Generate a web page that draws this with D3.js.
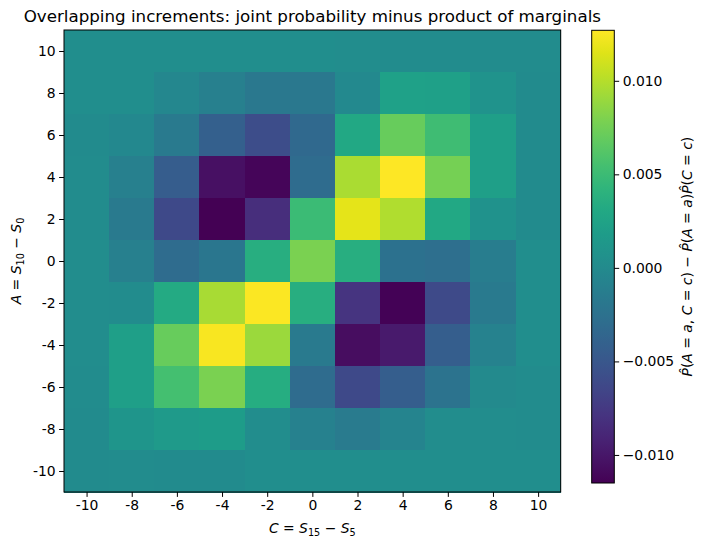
<!DOCTYPE html>
<html>
<head>
<meta charset="utf-8">
<script src="https://cdn.jsdelivr.net/npm/d3@7"></script>
<style>
    body { margin: 0; background: #fff; }
    svg text { font-family: "DejaVu Sans", sans-serif; fill: #000; }
    .tick line { stroke: #000; }
    .domain { display: none; }
</style>
</head>
<body>
<div id="chart"></div>
<script>
// Chart data: rows of A (top to bottom), columns of C (left to right)
const cValues = [-10, -8, -6, -4, -2, 0, 2, 4, 6, 8, 10];
const aValues = [10, 8, 6, 4, 2, 0, -2, -4, -6, -8, -10];
const diffRows = [
    [0.0004, 0.0004, 0.0004, 0.0004, 0.0004, 0.0004, 0.0003, 0.0002, 0.0002, 0.0002, 0.0002],
    [0.0004, 0.0004, -0.0003, -0.0011, -0.0018, -0.0018, -0.0001, 0.0023, 0.0022, 0.0009, 0.0001],
    [0.0001, -0.0002, -0.0016, -0.0042, -0.0059, -0.0033, 0.0030, 0.0071, 0.0052, 0.0021, 0.0001],
    [0.0002, -0.0011, -0.0045, -0.0105, -0.0112, -0.0030, 0.0096, 0.0127, 0.0076, 0.0021, 0.0001],
    [0.0002, -0.0016, -0.0062, -0.0115, -0.0083, 0.0050, 0.0117, 0.0098, 0.0030, 0.0008, 0.0001],
    [0.0003, -0.0011, -0.0030, -0.0020, 0.0037, 0.0078, 0.0037, -0.0025, -0.0028, -0.0013, 0.0004],
    [0.0003, 0.0002, 0.0032, 0.0095, 0.0126, 0.0037, -0.0079, -0.0114, -0.0061, -0.0016, 0.0004],
    [0.0003, 0.0021, 0.0071, 0.0125, 0.0091, -0.0016, -0.0107, -0.0098, -0.0044, -0.0009, 0.0004],
    [0.0002, 0.0021, 0.0055, 0.0078, 0.0035, -0.0030, -0.0062, -0.0044, -0.0023, 0.0000, 0.0002],
    [0.0001, 0.0011, 0.0016, 0.0018, 0.0003, -0.0010, -0.0015, -0.0006, 0.0003, 0.0003, 0.0002],
    [0.0001, 0.0002, 0.0001, 0.0001, 0.0004, 0.0004, 0.0004, 0.0004, 0.0004, 0.0004, 0.0004]
];
const axisTicks = [-10, -8, -6, -4, -2, 0, 2, 4, 6, 8, 10];
const colorbarTicks = [-0.010, -0.005, 0.000, 0.005, 0.010];

(function () {
    'use strict';

    const width = 710, height = 548;
    const plot = { left: 64, right: 560.7, top: 30, bottom: 492 };
    const bar = { left: 591.7, right: 614.3, top: 30.3, bottom: 483 };

    const svg = d3.select('#chart').append('svg')
        .attr('width', width)
        .attr('height', height);

    const x = d3.scaleLinear().domain([-11, 11]).range([plot.left, plot.right]);
    const y = d3.scaleLinear().domain([-11, 11]).range([plot.bottom, plot.top]);

    // flatten cells
    const cells = [];
    diffRows.forEach((row, i) => {
        row.forEach((v, j) => cells.push({ a: aValues[i], c: cValues[j], v: v }));
    });

    const extent = d3.extent(cells, d => d.v);
    const color = d3.scaleSequential(d3.interpolateViridis).domain(extent);

    svg.append('g')
        .attr('shape-rendering', 'crispEdges')
        .selectAll('rect')
        .data(cells)
        .enter()
        .append('rect')
        .attr('x', d => x(d.c - 1))
        .attr('y', d => y(d.a + 1))
        .attr('width', d => x(d.c + 1) - x(d.c - 1) + 0.6)
        .attr('height', d => y(d.a - 1) - y(d.a + 1) + 0.6)
        .attr('fill', d => color(d.v));

    svg.append('rect')
        .attr('x', plot.left).attr('y', plot.top)
        .attr('width', plot.right - plot.left).attr('height', plot.bottom - plot.top)
        .attr('fill', 'none').attr('stroke', '#000').attr('stroke-width', 1);

    // axes
    const fmt = d => String(d);
    const xAxis = svg.append('g')
        .attr('transform', `translate(0,${plot.bottom})`)
        .call(d3.axisBottom(x).tickValues(axisTicks).tickFormat(fmt).tickSize(4.9).tickPadding(3.5));
    xAxis.selectAll('text').attr('font-size', '13.9px');

    const yAxis = svg.append('g')
        .attr('transform', `translate(${plot.left},0)`)
        .call(d3.axisLeft(y).tickValues(axisTicks).tickFormat(fmt).tickSize(4.9).tickPadding(3.5));
    yAxis.selectAll('text').attr('font-size', '13.9px');

    // title
    svg.append('text')
        .attr('x', (plot.left + plot.right) / 2)
        .attr('y', 22)
        .attr('text-anchor', 'middle')
        .attr('font-size', '16.7px')
        .text('Overlapping increments: joint probability minus product of marginals');

    // x label
    const xl = svg.append('text')
        .attr('x', (plot.left + plot.right) / 2)
        .attr('y', 533)
        .attr('text-anchor', 'middle')
        .attr('font-size', '13.9px');
    xl.append('tspan').attr('font-style', 'italic').text('C');
    xl.append('tspan').text(' = ');
    xl.append('tspan').attr('font-style', 'italic').text('S');
    xl.append('tspan').attr('font-size', '9.7px').attr('dy', 3).text('15');
    xl.append('tspan').attr('dy', -3).text(' − ');
    xl.append('tspan').attr('font-style', 'italic').text('S');
    xl.append('tspan').attr('font-size', '9.7px').attr('dy', 3).text('5');

    // y label
    const yl = svg.append('text')
        .attr('transform', `translate(21,${(plot.top + plot.bottom) / 2}) rotate(-90)`)
        .attr('text-anchor', 'middle')
        .attr('font-size', '13.9px');
    yl.append('tspan').attr('font-style', 'italic').text('A');
    yl.append('tspan').text(' = ');
    yl.append('tspan').attr('font-style', 'italic').text('S');
    yl.append('tspan').attr('font-size', '9.7px').attr('dy', 3).text('10');
    yl.append('tspan').attr('dy', -3).text(' − ');
    yl.append('tspan').attr('font-style', 'italic').text('S');
    yl.append('tspan').attr('font-size', '9.7px').attr('dy', 3).text('0');

    // colorbar
    const defs = svg.append('defs');
    const grad = defs.append('linearGradient')
        .attr('id', 'cbar')
        .attr('x1', 0).attr('y1', 1).attr('x2', 0).attr('y2', 0);
    d3.range(0, 1.0001, 0.05).forEach(t => {
        grad.append('stop').attr('offset', t).attr('stop-color', d3.interpolateViridis(t));
    });
    svg.append('rect')
        .attr('x', bar.left).attr('y', bar.top)
        .attr('width', bar.right - bar.left).attr('height', bar.bottom - bar.top)
        .attr('fill', 'url(#cbar)')
        .attr('stroke', '#000').attr('stroke-width', 1);

    const cScale = d3.scaleLinear().domain(extent).range([bar.bottom, bar.top]);
    const cAxis = svg.append('g')
        .attr('transform', `translate(${bar.right},0)`)
        .call(d3.axisRight(cScale).tickValues(colorbarTicks).tickFormat(d3.format('.3f')).tickSize(4.9).tickPadding(3.5));
    cAxis.selectAll('text').attr('font-size', '13.9px');

    // colorbar label
    const cl = svg.append('text')
        .attr('transform', `translate(692,${(bar.top + bar.bottom) / 2}) rotate(-90)`)
        .attr('text-anchor', 'middle')
        .attr('font-size', '13.9px');
    const hatP = () => {
        cl.append('tspan').attr('font-style', 'italic').text('P\u0302');
    };
    hatP();
    cl.append('tspan').text('(');
    cl.append('tspan').attr('font-style', 'italic').text('A');
    cl.append('tspan').text(' = ');
    cl.append('tspan').attr('font-style', 'italic').text('a');
    cl.append('tspan').text(', ');
    cl.append('tspan').attr('font-style', 'italic').text('C');
    cl.append('tspan').text(' = ');
    cl.append('tspan').attr('font-style', 'italic').text('c');
    cl.append('tspan').text(') − ');
    hatP();
    cl.append('tspan').text('(');
    cl.append('tspan').attr('font-style', 'italic').text('A');
    cl.append('tspan').text(' = ');
    cl.append('tspan').attr('font-style', 'italic').text('a');
    cl.append('tspan').text(')');
    hatP();
    cl.append('tspan').text('(');
    cl.append('tspan').attr('font-style', 'italic').text('C');
    cl.append('tspan').text(' = ');
    cl.append('tspan').attr('font-style', 'italic').text('c');
    cl.append('tspan').text(')');
})();
</script>
</body>
</html>
